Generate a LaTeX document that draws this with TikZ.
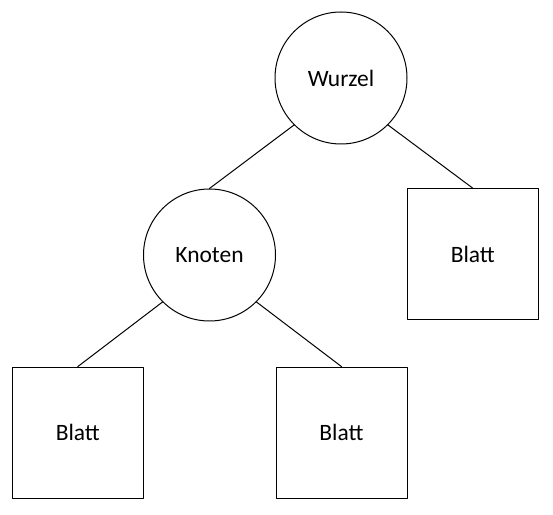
\documentclass[tikz,border=0pt]{standalone}
\usepackage{fontspec}
\setmainfont{Carlito}
\usepackage{tikz}

\begin{document}
\begin{tikzpicture}[line cap=round,line join=round,x=0.75pt,y=0.75pt,
    knot/.style={draw,circle,minimum size=99pt,inner sep=0pt,line width=0.75pt,font=\fontsize{17.6}{21}\selectfont},
    leaf/.style={draw,rectangle,minimum size=98.25pt,inner sep=0pt,line width=0.75pt,font=\fontsize{17.6}{21}\selectfont}]
      \useasboundingbox (0,0) rectangle (553,514);
      % Knoten
      \node[knot] (wurzel) at (341,436) {Wurzel};
      \node[knot] (knoten) at (209.5,259) {Knoten};
      % Blaetter
      \node[leaf] (blattr) at (472.8,259.8) {Blatt};
      \node[leaf] (blattl) at (77.8,81.4) {Blatt};
      \node[leaf] (blattm) at (341.5,81.4) {Blatt};
      % Kanten
      \draw[line width=0.75pt] (wurzel.south west) -- (knoten.north);
      \draw[line width=0.75pt] (wurzel.south east) -- (blattr.north);
      \draw[line width=0.75pt] (knoten.south west) -- (blattl.north);
      \draw[line width=0.75pt] (knoten.south east) -- (blattm.north);
\end{tikzpicture}
\end{document}
